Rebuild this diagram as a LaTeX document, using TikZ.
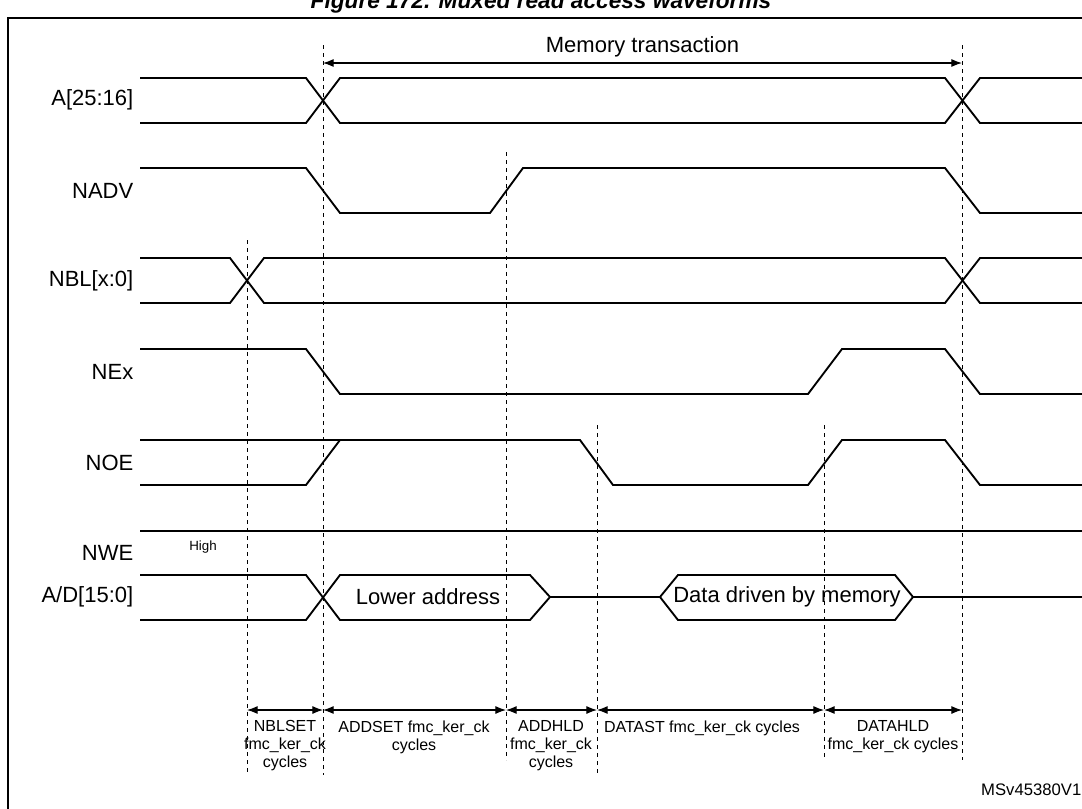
\documentclass[tikz,border=0pt]{standalone}
\usepackage{fontspec}
\setmainfont{Liberation Sans}
\usetikzlibrary{arrows.meta}
\tikzstyle{wave} = [draw, line width=1.4pt]
\tikzstyle{marker} = [draw, dashed, line width=0.4pt]
\tikzstyle{span} = [draw, {Latex[length=8pt,width=6pt]}-{Latex[length=8pt,width=6pt]}, line width=0.8pt]
\tikzstyle{signame} = [anchor=east, font=\fontsize{16.5}{18}\selectfont]
\tikzstyle{timing} = [align=center, font=\fontsize{12}{13.5}\selectfont, anchor=north, inner sep=1pt]

\begin{document}
\begin{tikzpicture}[x=0.75pt, y=-0.75pt]
  \useasboundingbox (0,0) rectangle (1082,808);
  \node [font=\bfseries\itshape\fontsize{17}{19}\selectfont] (title) at (541,3) {Figure 172. Muxed read access waveforms};
  \draw [line width=1.5pt] (1100,18) -- (8,18) -- (8,830);
  % signal names
  \node [signame] (addr) at (138,100) {A[25:16]};
  \node [signame] (nadv) at (138,191) {NADV};
  \node [signame] (nbl) at (138,281) {NBL[x:0]};
  \node [signame] (nex) at (138,372) {NEx};
  \node [signame] (noe) at (138,463) {NOE};
  \node [signame] (nwe) at (138,553) {NWE};
  \node [signame] (ad) at (138,597) {A/D[15:0]};
  \node [font=\fontsize{10}{11}\selectfont] (high) at (203,547) {High};
  % waveforms
  \path [wave] (140,78) -- (306,78) -- (340,123) -- (945,123) -- (980,78) -- (1082,78);
  \path [wave] (140,123) -- (306,123) -- (340,78) -- (945,78) -- (980,123) -- (1082,123);
  \path [wave] (140,168) -- (306,168) -- (340,213) -- (490,213) -- (523,168) -- (945,168) -- (980,213) -- (1082,213);
  \path [wave] (140,258) -- (230,258) -- (264,303) -- (945,303) -- (980,258) -- (1082,258);
  \path [wave] (140,303) -- (230,303) -- (264,258) -- (945,258) -- (980,303) -- (1082,303);
  \path [wave] (140,349) -- (306,349) -- (340,394) -- (808,394) -- (842,349) -- (945,349) -- (980,394) -- (1082,394);
  \path [wave] (140,440) -- (580,440) -- (613,485) -- (808,485) -- (842,440) -- (945,440) -- (980,485) -- (1082,485);
  \path [wave] (140,485) -- (306,485) -- (340,440);
  \path [wave] (140,531) -- (1082,531);
  \path [wave] (140,575) -- (306,575) -- (340,620) -- (530,620) -- (550,597) -- (530,575) -- (340,575) -- (306,620) -- (140,620);
  \path [wave] (550,597) -- (660,597);
  \path [wave] (660,597) -- (678,575) -- (895,575) -- (913,597) -- (895,620) -- (678,620) -- cycle;
  \path [wave] (913,597) -- (1082,597);
  \node [font=\fontsize{16.5}{18}\selectfont] (lower) at (428,597) {Lower address};
  \node [font=\fontsize{16.5}{18}\selectfont] (data) at (787,597) {Data driven by memory};
  % timing markers
  \coordinate (m1) at (247,710);
  \coordinate (m2) at (323,710);
  \coordinate (m3) at (506,710);
  \coordinate (m4) at (597,710);
  \coordinate (m5) at (824,710);
  \coordinate (m6) at (962,710);
  \path [marker] (247,240) -- (247,775);
  \path [marker] (323,45) -- (323,775);
  \path [marker] (506,152) -- (506,760);
  \path [marker] (597,425) -- (597,775);
  \path [marker] (824,425) -- (824,760);
  \path [marker] (962,45) -- (962,760);
  \coordinate (t1) at (323,63);
  \coordinate (t2) at (962,63);
  \path [span] (t1) -- node [above=1pt, font=\fontsize{16.5}{18}\selectfont] {Memory transaction} (t2);
  \path [span] (m1) -- (m2);
  \path [span] (m2) -- (m3);
  \path [span] (m3) -- (m4);
  \path [span] (m4) -- (m5);
  \path [span] (m5) -- (m6);
  \node [timing] (nblset) at (285,719) {NBLSET\\fmc\_ker\_ck\\cycles};
  \node [timing] (addset) at (414,719) {ADDSET fmc\_ker\_ck\\cycles};
  \node [timing] (addhld) at (551,719) {ADDHLD\\fmc\_ker\_ck\\cycles};
  \node [timing] (datast) at (702,719) {DATAST fmc\_ker\_ck cycles};
  \node [timing] (datahld) at (893,719) {DATAHLD\\fmc\_ker\_ck cycles};
  \node [anchor=east, font=\fontsize{12.5}{14}\selectfont] (ref) at (1086,790) {MSv45380V1};
\end{tikzpicture}
\end{document}
